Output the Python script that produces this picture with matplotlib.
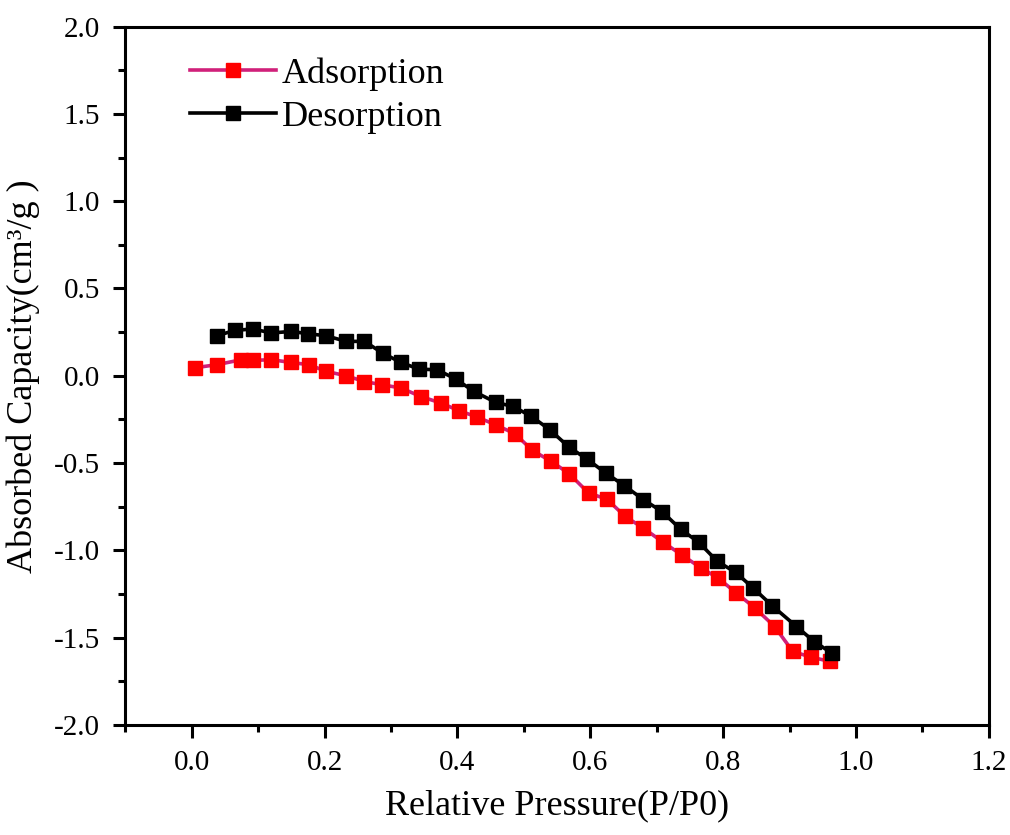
import numpy as np
import matplotlib.pyplot as plt
from matplotlib.ticker import MultipleLocator, FormatStrFormatter

plt.rcParams['font.family'] = ['Liberation Serif', 'DejaVu Serif']
plt.rcParams['axes.unicode_minus'] = False

# adsorption branch
ads_p = [0.005, 0.0375, 0.075, 0.092, 0.12, 0.15, 0.177, 0.2025, 0.2325, 0.26,
         0.287, 0.315, 0.345, 0.375, 0.4025, 0.43, 0.4575, 0.4865, 0.513, 0.5415,
         0.5685, 0.5975, 0.625, 0.6525, 0.68, 0.71, 0.7375, 0.767, 0.7925, 0.82,
         0.848, 0.8775, 0.905, 0.932, 0.961]
ads_q = [0.046, 0.063, 0.092, 0.088, 0.092, 0.076, 0.063, 0.025, 0.0, -0.033,
         -0.052, -0.07, -0.119, -0.156, -0.2, -0.237, -0.281, -0.332, -0.428, -0.491,
         -0.562, -0.672, -0.707, -0.806, -0.873, -0.955, -1.026, -1.102, -1.159, -1.245,
         -1.331, -1.437, -1.58, -1.612, -1.637]

# desorption branch
des_p = [0.0375, 0.065, 0.0925, 0.12, 0.15, 0.175, 0.2025, 0.2325, 0.26, 0.2875,
         0.315, 0.3425, 0.37, 0.3975, 0.425, 0.458, 0.484, 0.5115, 0.539, 0.568,
         0.595, 0.6235, 0.6515, 0.68, 0.708, 0.736, 0.7635, 0.7915, 0.819, 0.8455,
         0.874, 0.9105, 0.937, 0.9635]
des_q = [0.229, 0.26, 0.268, 0.245, 0.254, 0.241, 0.229, 0.197, 0.197, 0.13,
         0.076, 0.038, 0.034, -0.019, -0.09, -0.153, -0.176, -0.233, -0.309, -0.409,
         -0.477, -0.558, -0.63, -0.71, -0.778, -0.879, -0.955, -1.064, -1.127, -1.217,
         -1.318, -1.437, -1.523, -1.589]

fig = plt.figure(figsize=(10.1, 8.35), dpi=100)
ax = fig.add_axes([0.124, 0.132, 0.855, 0.836])

ax.plot(ads_p, ads_q, color='#d0207a', lw=2.6, marker='s', ms=9.5,
        mfc='#ff0000', mec='#ff0000', label='Adsorption')
ax.plot(des_p, des_q, color='black', lw=2.6, marker='s', ms=9.5,
        mfc='black', mec='black', label='Desorption')

ax.set_xlim(-0.1, 1.2)
ax.set_ylim(-2.0, 2.0)
ax.xaxis.set_major_locator(MultipleLocator(0.2))
ax.xaxis.set_minor_locator(MultipleLocator(0.1))
ax.yaxis.set_major_locator(MultipleLocator(0.5))
ax.yaxis.set_minor_locator(MultipleLocator(0.25))
ax.xaxis.set_major_formatter(FormatStrFormatter('%.1f'))
ax.yaxis.set_major_formatter(FormatStrFormatter('%.1f'))

for s in ax.spines.values():
    s.set_linewidth(2.2)
ax.tick_params(which='both', direction='out', width=2.2, labelsize=21,
               top=False, right=False)
ax.tick_params(which='major', length=9, pad=9)
ax.tick_params(which='minor', length=5)

ax.set_xlabel('Relative Pressure(P/P0)', fontsize=26, labelpad=10)
ax.set_ylabel('Absorbed Capacity(cm³/g )', fontsize=26, labelpad=10)

ax.legend(loc='upper left', bbox_to_anchor=(0.058, 0.977), frameon=False,
          fontsize=26, handlelength=2.4, handletextpad=0.15, labelspacing=0.27,
          borderaxespad=0)

plt.savefig('out.png')
